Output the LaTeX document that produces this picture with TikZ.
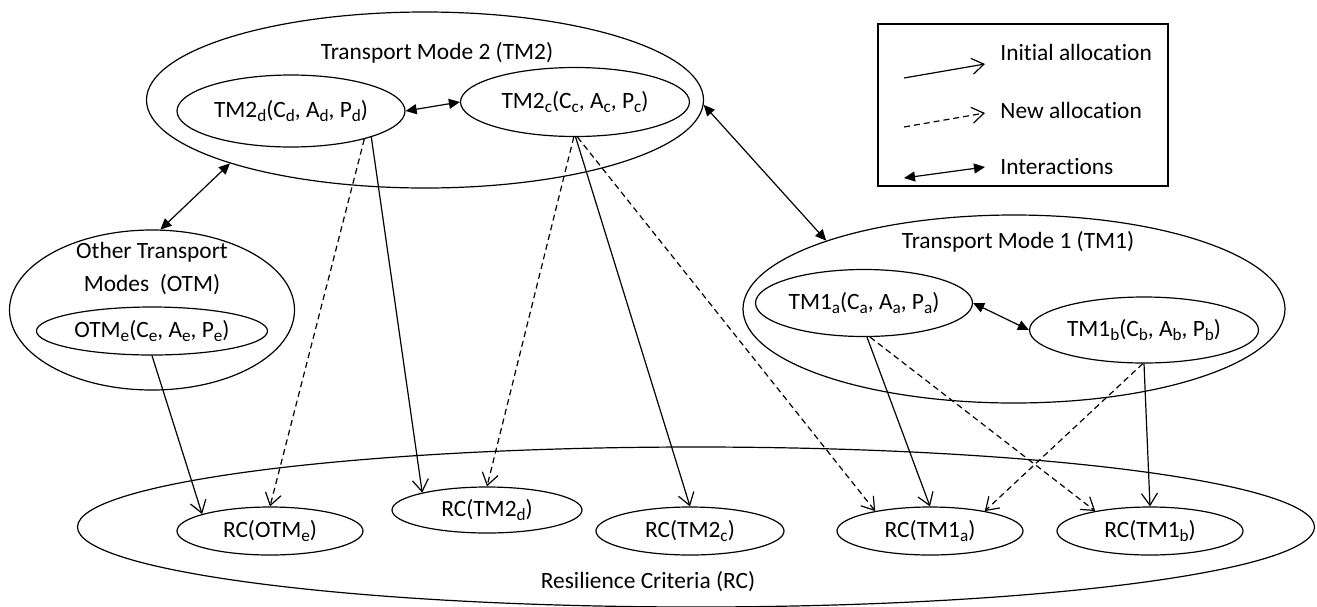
\documentclass[tikz,border=0pt]{standalone}
\usepackage{fontspec}
\setmainfont{Carlito}[Ligatures={NoCommon}]
\usetikzlibrary{shapes.geometric, arrows.meta}
\newcommand{\lo}[1]{\raisebox{-2.4pt}{\fontsize{8.6}{9}\selectfont #1}}

\begin{document}
\begin{tikzpicture}[
        x=0.5pt, y=-0.5pt,
        every node/.style={font=\fontsize{11.7}{16.5}\selectfont},
        group/.style={ellipse, draw=black, line width=0.6pt, inner sep=0pt},
        mode/.style={ellipse, draw=black, line width=0.6pt, inner sep=0pt, text centered},
        crit/.style={ellipse, minimum width=93pt, minimum height=24pt, draw=black, line width=0.6pt, inner sep=0pt, text centered},
        title/.style={inner sep=0pt, align=center},
        alloc/.style={line width=0.6pt, -{Straight Barb[length=6pt, width=8pt]}},
        newalloc/.style={alloc, dash pattern=on 3pt off 2pt},
        inter/.style={line width=0.6pt, {Triangle[length=5.5pt, width=5pt]}-{Triangle[length=5.5pt, width=5pt]}}
    ]
        \useasboundingbox (0,0) rectangle (1317,606);

        % Transport Mode 2
        \node (TMtwo) [group, minimum width=278.5pt, minimum height=88pt] at (425,100) {};
        \node (TMtwotitle) [title] at (437,53) {Transport Mode 2 (TM2)};
        \node (TMtwod) [mode, minimum width=114pt, minimum height=36pt] at (291,111) {TM2\lo{d}(C\lo{d}, A\lo{d}, P\lo{d})};
        \node (TMtwoc) [mode, minimum width=114.5pt, minimum height=34.5pt] at (575,102) {TM2\lo{c}(C\lo{c}, A\lo{c}, P\lo{c})};

        % Other Transport Modes
        \node (OTM) [group, minimum width=142.5pt, minimum height=80pt] at (152,310) {};
        \node (OTMtitle) [title] at (152,268.5) {Other Transport\\Modes~~(OTM)};
        \node (OTMe) [mode, minimum width=115.5pt, minimum height=24pt] at (152,331) {OTM\lo{e}(C\lo{e}, A\lo{e}, P\lo{e})};

        % Transport Mode 1
        \node (TMone) [group, minimum width=271pt, minimum height=94pt] at (1014,309) {};
        \node (TMonetitle) [title] at (1018,242) {Transport Mode 1 (TM1)};
        \node (TMonea) [mode, minimum width=108.5pt, minimum height=33.5pt] at (864,303) {TM1\lo{a}(C\lo{a}, A\lo{a}, P\lo{a})};
        \node (TMoneb) [mode, minimum width=114.5pt, minimum height=33pt] at (1144,330) {TM1\lo{b}(C\lo{b}, A\lo{b}, P\lo{b})};

        % Resilience Criteria
        \node (RC) [group, minimum width=618.5pt, minimum height=80pt] at (696,527) {};
        \node (RCtitle) [title] at (648,582) {Resilience Criteria (RC)};
        \node (RCotm) [crit] at (270,531) {RC(OTM\lo{e})};
        \node (RCtwod) [crit, minimum width=95pt, minimum height=23pt] at (487,510) {RC(TM2\lo{d})};
        \node (RCtwoc) [crit, minimum width=94pt] at (690,531) {RC(TM2\lo{c})};
        \node (RConea) [crit] at (930,531) {RC(TM1\lo{a})};
        \node (RConeb) [crit] at (1150,531) {RC(TM1\lo{b})};

        % Legend
        \node (legend) [draw=black, line width=0.6pt, minimum width=145pt, minimum height=81pt, inner sep=0pt] at (1023,105) {};
        \node (initial) [anchor=west, inner sep=0pt] at (1000,52) {Initial allocation};
        \node (new) [anchor=west, inner sep=0pt] at (1000,110) {New allocation};
        \node (interactions) [anchor=west, inner sep=0pt] at (1000,167) {Interactions};
        \coordinate (initialfrom) at (904,78);
        \coordinate (initialto) at (985,64);
        \coordinate (newfrom) at (904,127);
        \coordinate (newto) at (985,113);
        \coordinate (interfrom) at (904,178);
        \coordinate (interto) at (985,167);
        \draw [alloc] (initialfrom) -- (initialto);
        \draw [newalloc] (newfrom) -- (newto);
        \draw [inter] (interfrom) -- (interto);

        % Interactions
        \draw [inter] (OTM.84) -- (TMtwo.198);
        \draw [inter] (TMtwod.east) -- (TMtwoc.west);
        \draw [inter] (TMtwo.-1) -- (TMone.160);
        \draw [inter] (TMonea.east) -- (TMoneb.west);

        % Initial allocation
        \draw [alloc] (OTMe.south) -- (RCotm.166);
        \draw [alloc] (TMtwod.-18) -- (RCtwod.165);
        \draw [alloc] (TMtwoc.-89) -- (RCtwoc.north);
        \draw [alloc] (TMonea.-85) -- (RConea.north);
        \draw [alloc] (TMoneb.south) -- (RConeb.north);

        % New allocation
        \draw [newalloc] (TMtwod.-21) -- (RCotm.north);
        \draw [newalloc] (TMtwoc.-92) -- (RCtwod.north);
        \draw [newalloc] (TMtwoc.-86) -- (RConea.160);
        \draw [newalloc] (TMonea.-80) -- (RConeb.160);
        \draw [newalloc] (TMoneb.-92) -- (RConea.20);

    \end{tikzpicture}
\end{document}
